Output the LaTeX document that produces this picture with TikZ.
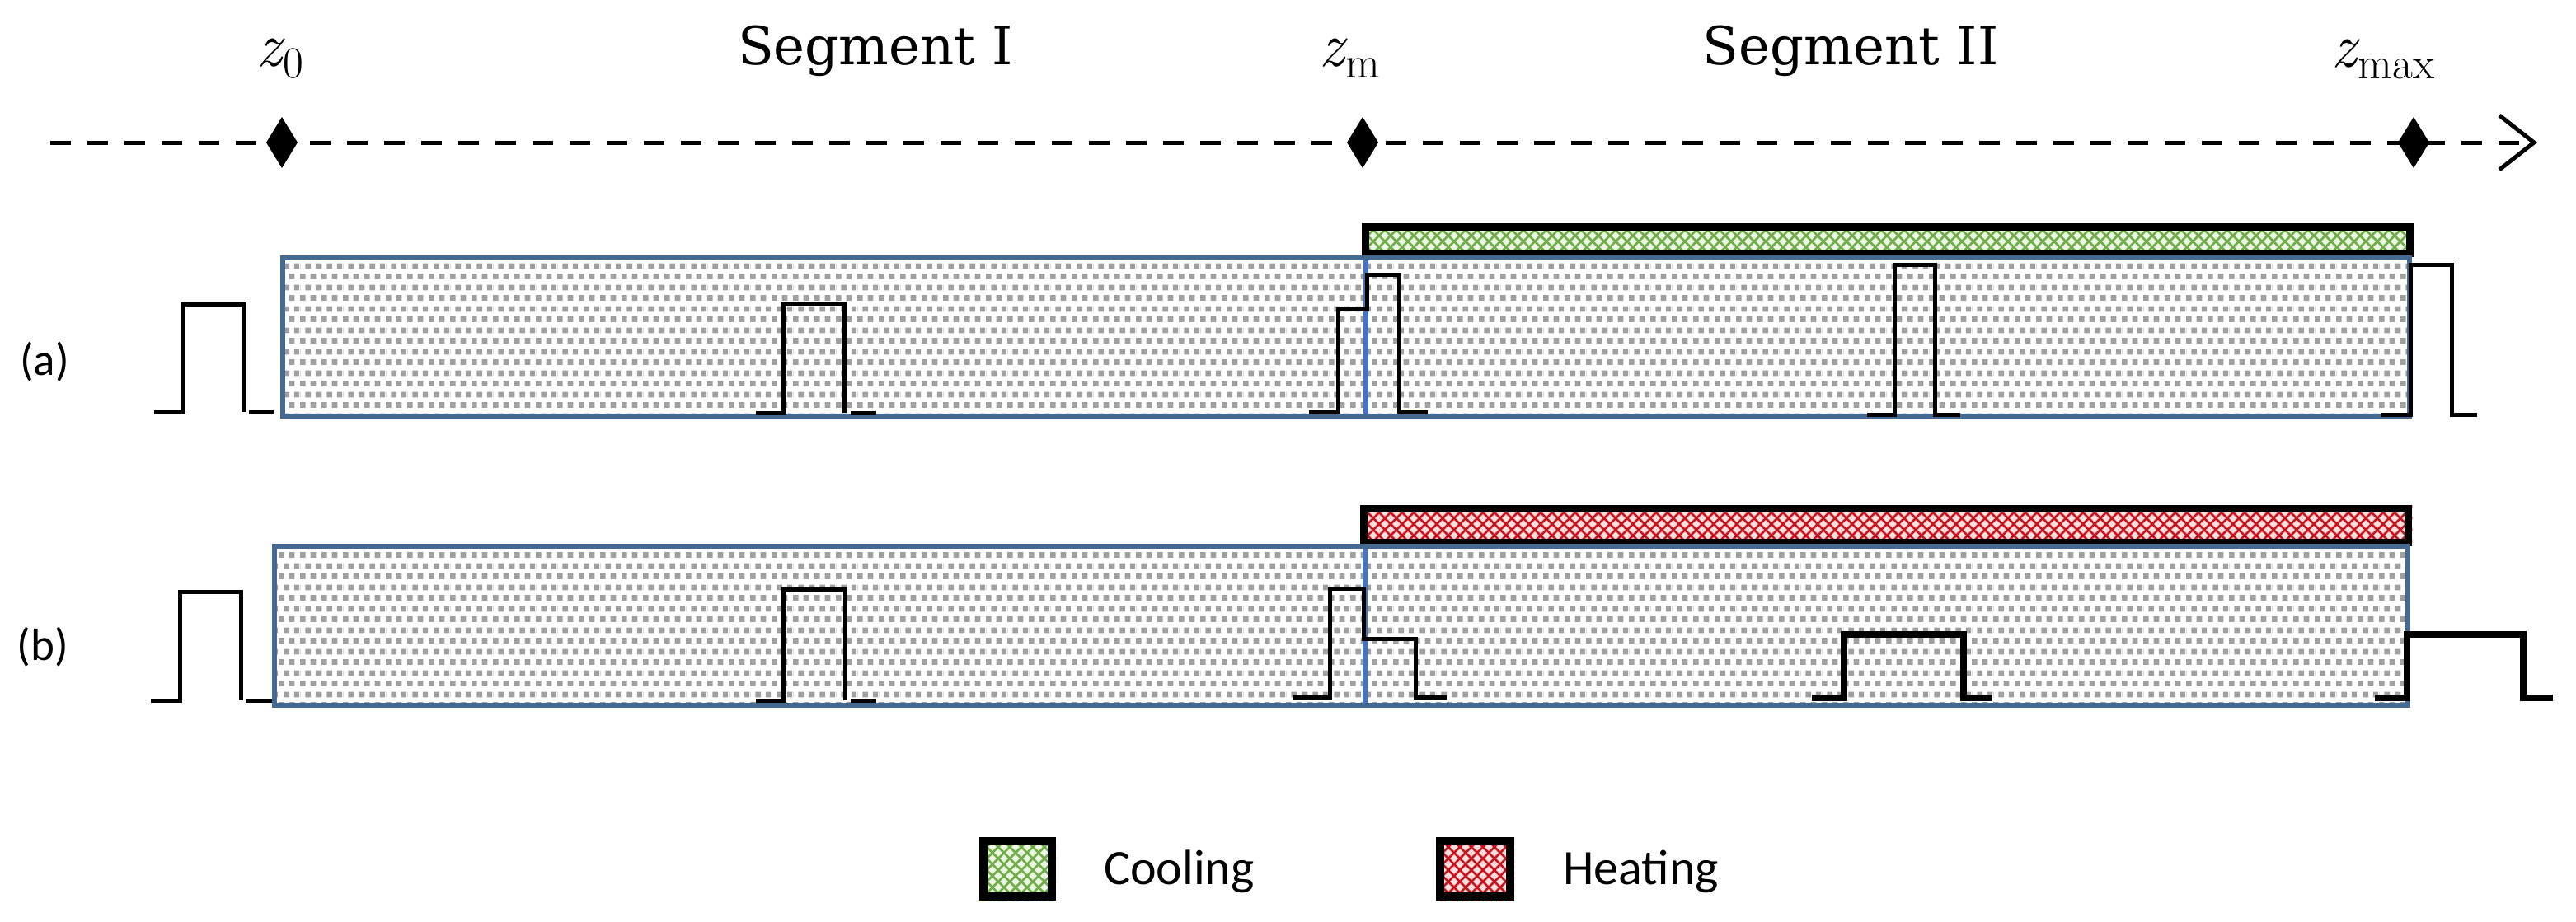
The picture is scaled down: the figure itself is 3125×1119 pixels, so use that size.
\documentclass[tikz,border=0pt]{standalone}
\usepackage{fontspec}
\newfontfamily\calib{Carlito}
\newfontfamily\serifd{DejaVu Serif}
\usetikzlibrary{patterns.meta}
\definecolor{boxline}{RGB}{70,105,145}
\definecolor{divline}{RGB}{68,114,196}
\definecolor{sqgray}{RGB}{160,160,160}
\definecolor{coolbg}{RGB}{236,246,228}
\definecolor{coolfg}{RGB}{112,173,71}
\definecolor{heatbg}{RGB}{255,222,222}
\definecolor{heatfg}{RGB}{200,20,30}
\newcommand{\zlab}[1]{\itshape z\upshape\kern2pt\raisebox{-14pt}{\fontsize{54}{60}\selectfont #1}}
\tikzdeclarepattern{
  name=graysq,
  tile size={(26pt,26pt)},
  bounding box={(0pt,0pt) and (26pt,26pt)},
  code={\fill (0pt,0pt) rectangle (7pt,7pt);
        \fill (13pt,0pt) rectangle (20pt,7pt);
        \fill (6.5pt,13pt) rectangle (13.5pt,20pt);
        \fill (19.5pt,13pt) rectangle (26pt,20pt);
        \fill (0pt,13pt) rectangle (0.5pt,20pt);}
}
\tikzdeclarepattern{
  name=xmesh,
  tile size={(14pt,14pt)},
  bounding box={(-1pt,-1pt) and (15pt,15pt)},
  code={\draw[line width=2.6pt] (-1pt,-1pt) -- (15pt,15pt) (-1pt,15pt) -- (15pt,-1pt);}
}
\begin{document}
\begin{tikzpicture}[x=1pt,y=-1pt,
  pulse/.style={line width=5pt, black, line join=miter},
  pulsethick/.style={line width=8pt, black, line join=miter},
  mainbox/.style={pattern=graysq, pattern color=sqgray},
  boxedge/.style={boxline, line width=6pt},
  divider/.style={divline, line width=6pt},
  baredge/.style={black, line width=9pt},
  mathlbl/.style={anchor=base west, inner sep=0pt, font=\fontsize{76}{90}\selectfont},
  seglbl/.style={anchor=base, inner sep=0pt, font=\serifd\fontsize{64}{76}\selectfont},
  sidelbl/.style={anchor=center, inner sep=0pt, font=\calib\fontsize{55}{62}\selectfont},
  leglbl/.style={anchor=base west, inner sep=0pt, font=\calib\fontsize{60}{70}\selectfont}]
\useasboundingbox (0,0) rectangle (3125,1119);

% ---- axis ----
\draw[line width=5pt, dash pattern=on 25pt off 20pt] (61,173) -- (3068,173);
\draw[line width=5pt, line join=miter] (3032,140) -- (3074,173) -- (3032,206);
\foreach \x in {342,1653,2928}{
  \fill (\x,142) -- (\x+19,173) -- (\x,204) -- (\x-19,173) -- cycle;
}

% ---- labels on top ----
\node[mathlbl] (z0) at (311,80) {\zlab{0}};
\node[mathlbl] (zm) at (1600,80) {\zlab{m}};
\node[mathlbl] (zmax) at (2828,81) {\zlab{max}};
\node[seglbl] (seg1) at (1062,78) {Segment I};
\node[seglbl] (seg2) at (2245,78) {Segment II};

% ---- row (a) ----
\fill[coolbg] (1652,271) rectangle (2928,312);
\fill[pattern=xmesh, pattern color=coolfg] (1652,271) rectangle (2928,312);
\draw[baredge] (1656.5,275.5) rectangle (2923.5,307.5);
\fill[white] (343,313) rectangle (2923,505);
\fill[mainbox] (343,313) rectangle (2923,505);
\draw[boxedge] (343,313) rectangle (2923,505);
\draw[divider] (1657,316) -- (1657,502);

\node[sidelbl] (la) at (54,439) {(a)};

\draw[pulse] (187,500) -- (222,500) -- (222,369) -- (295,369) -- (295,500);
\draw[pulse] (302,500) -- (333,500);
\draw[pulse] (917,501) -- (950,501) -- (950,368) -- (1024,368) -- (1024,501);
\draw[pulse] (1032,501) -- (1063,501);
\draw[pulse] (1588,500) -- (1623,500) -- (1623,375) -- (1658,375) -- (1658,333) -- (1697,333) -- (1697,500) -- (1732,500);
\draw[pulse] (2265,503) -- (2298,503) -- (2298,321) -- (2347,321) -- (2347,503) -- (2378,503);
\draw[pulse] (2888,503) -- (2924,503) -- (2924,321) -- (2974,321) -- (2974,503) -- (3005,503);

% ---- row (b) ----
\fill[heatbg] (1650,613) rectangle (2926,662);
\fill[pattern=xmesh, pattern color=heatfg] (1650,613) rectangle (2926,662);
\draw[baredge] (1654.5,617.5) rectangle (2921.5,658.5);
\fill[white] (333,663) rectangle (2921,856);
\fill[mainbox] (333,663) rectangle (2921,856);
\draw[boxedge] (333,663) rectangle (2921,856);
\draw[divider] (1656,666) -- (1656,853);

\node[sidelbl] (lb) at (52,785) {(b)};

\draw[pulse] (183,850) -- (218,850) -- (218,718) -- (292,718) -- (292,850);
\draw[pulse] (298,850) -- (330,850);
\draw[pulse] (917,850) -- (950,850) -- (950,715) -- (1025,715) -- (1025,850);
\draw[pulse] (1032,850) -- (1063,850);
\draw[pulse] (1568,846) -- (1613,846) -- (1613,714) -- (1654,714) -- (1654,775) -- (1717,775) -- (1717,846) -- (1755,846);
\draw[pulsethick] (2198,847) -- (2237,847) -- (2237,770) -- (2382,770) -- (2382,847) -- (2417,847);
\draw[pulsethick] (2881,847) -- (2920,847) -- (2920,770) -- (3061,770) -- (3061,847) -- (3097,847);

% ---- legend ----
\fill[coolbg] (1188,1016) rectangle (1281,1093);
\fill[pattern=xmesh, pattern color=coolfg] (1188,1016) rectangle (1281,1093);
\draw[black, line width=10pt] (1193,1021) rectangle (1276,1088);
\node[leglbl] (lcool) at (1339,1073) {Cooling};

\fill[heatbg] (1742,1016) rectangle (1837,1093);
\fill[pattern=xmesh, pattern color=heatfg] (1742,1016) rectangle (1837,1093);
\draw[black, line width=10pt] (1747,1021) rectangle (1832,1088);
\node[leglbl] (lheat) at (1896,1073) {Heating};
\end{tikzpicture}
\end{document}
